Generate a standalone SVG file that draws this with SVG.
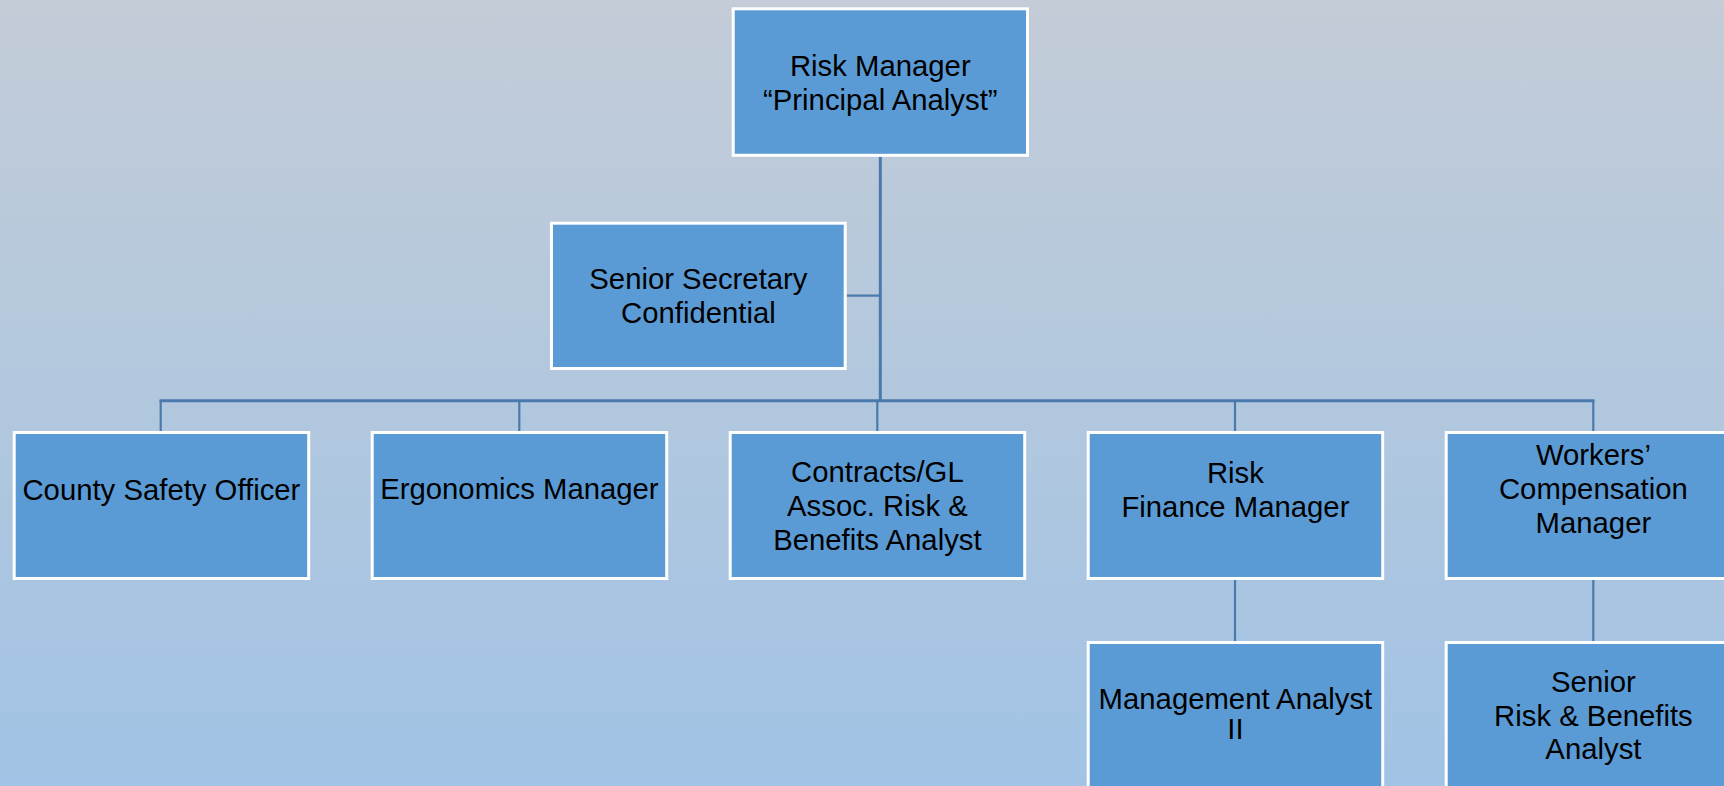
<svg xmlns="http://www.w3.org/2000/svg" width="1724" height="786" viewBox="0 0 1724 786">
<defs>
<linearGradient id="bg" x1="0" y1="0" x2="0" y2="1">
<stop offset="0" stop-color="#c3ccd7"/>
<stop offset="1" stop-color="#a1c3e5"/>
</linearGradient>
<style>
.box{fill:#5b9bd5;stroke:#ffffff;stroke-width:3}
.t{font-family:"Liberation Sans",Arial,sans-serif;font-size:29.3px;fill:#000;text-anchor:middle}
.c{stroke:#4a7aab;fill:none}
.thick{stroke-width:3}
.thin{stroke-width:2.2}
</style>
</defs>
<rect x="0" y="0" width="1724" height="786" fill="url(#bg)"/>
<g id="connectors">
<line class="c thick" x1="880.3" y1="157" x2="880.3" y2="401"/>
<line class="c thin" x1="847" y1="295.7" x2="880.3" y2="295.7"/>
<line class="c thick" x1="159.6" y1="400.7" x2="1594.4" y2="400.7"/>
<line class="c thin" x1="160.7" y1="400" x2="160.7" y2="431"/>
<line class="c thin" x1="519.3" y1="400" x2="519.3" y2="431"/>
<line class="c thin" x1="877.3" y1="400" x2="877.3" y2="431"/>
<line class="c thin" x1="1235" y1="400" x2="1235" y2="431"/>
<line class="c thin" x1="1593.3" y1="400" x2="1593.3" y2="431"/>
<line class="c thin" x1="1235" y1="580" x2="1235" y2="641"/>
<line class="c thin" x1="1593.3" y1="580" x2="1593.3" y2="641"/>
</g>
<g id="risk-manager">
<rect class="box" x="733.2" y="8.8" width="294.3" height="146.5"/>
<text class="t" x="880.3" y="76">Risk Manager</text>
<text class="t" x="880.3" y="109.5">“Principal Analyst”</text>
</g>
<g id="senior-secretary">
<rect class="box" x="551.5" y="223.2" width="293.7" height="145.3"/>
<text class="t" x="698.4" y="289.3">Senior Secretary</text>
<text class="t" x="698.4" y="322.7">Confidential</text>
</g>
<g id="county-safety-officer">
<rect class="box" x="14.2" y="432.5" width="294.5" height="146"/>
<text class="t" x="161.4" y="500">County Safety Officer</text>
</g>
<g id="ergonomics-manager">
<rect class="box" x="372.2" y="432.5" width="294.5" height="146"/>
<text class="t" x="519.4" y="499">Ergonomics Manager</text>
</g>
<g id="contracts-gl">
<rect class="box" x="730.2" y="432.5" width="294.5" height="146"/>
<text class="t" x="877.4" y="481.7">Contracts/GL</text>
<text class="t" x="877.4" y="516">Assoc. Risk &amp;</text>
<text class="t" x="877.4" y="550">Benefits Analyst</text>
</g>
<g id="risk-finance-manager">
<rect class="box" x="1088.2" y="432.5" width="294.5" height="146"/>
<text class="t" x="1235.4" y="482.7">Risk</text>
<text class="t" x="1235.4" y="516.7">Finance Manager</text>
</g>
<g id="workers-compensation-manager">
<rect class="box" x="1446.2" y="432.5" width="294.5" height="146"/>
<text class="t" x="1593.4" y="465">Workers’</text>
<text class="t" x="1593.4" y="499.3">Compensation</text>
<text class="t" x="1593.4" y="533.3">Manager</text>
</g>
<g id="management-analyst-ii">
<rect class="box" x="1088.2" y="642.5" width="294.5" height="160"/>
<text class="t" x="1235.4" y="709.3">Management Analyst</text>
<text class="t" x="1235.4" y="739.3">II</text>
</g>
<g id="senior-risk-benefits-analyst">
<rect class="box" x="1446.2" y="642.5" width="294.5" height="160"/>
<text class="t" x="1593.4" y="692">Senior</text>
<text class="t" x="1593.4" y="726">Risk &amp; Benefits</text>
<text class="t" x="1593.4" y="759.3">Analyst</text>
</g>
</svg>
